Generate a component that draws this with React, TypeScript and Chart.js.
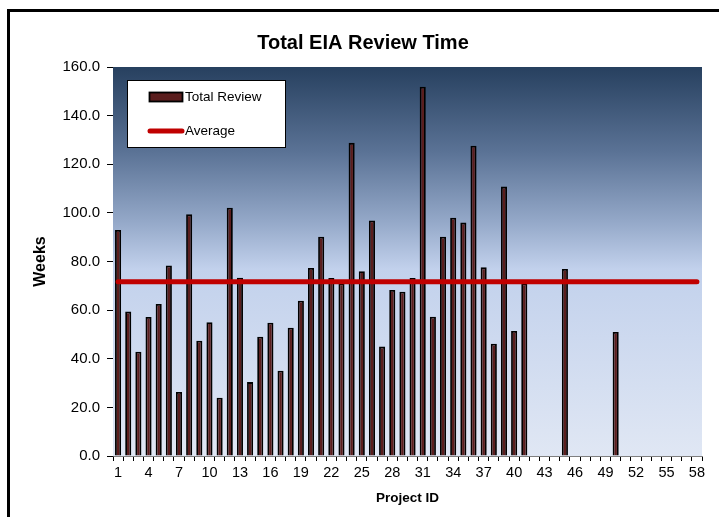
import React, { useEffect, useRef } from "react";
import { Chart, registerables } from "chart.js";

Chart.register(...registerables);

const chartTitle = "Total EIA Review Time";
const yAxisTitle = "Weeks";
const xAxisTitle = "Project ID";

const projectIds = [
  "1", "2", "3", "4", "5", "6", "7", "8", "9", "10",
  "11", "12", "13", "14", "15", "16", "17", "18", "19", "20",
  "21", "22", "23", "24", "25", "26", "27", "28", "29", "30",
  "31", "32", "33", "34", "35", "36", "37", "38", "39", "40",
  "41", "42", "43", "44", "45", "46", "47", "48", "49", "50",
  "51", "52", "53", "54", "55", "56", "57", "58",
];

const totalReview = [
  93.0, 59.4, 42.9, 57.2, 62.5, 78.4, 26.3, 99.4, 47.4, 55.0,
  24.0, 102.1, 73.3, 30.4, 49.1, 54.8, 35.1, 52.8, 63.9, 77.3,
  90.2, 73.2, 71.0, 128.8, 76.0, 96.9, 45.0, 68.3, 67.6, 73.2,
  151.9, 57.3, 90.2, 98.0, 96.0, 127.6, 77.6, 46.2, 110.8, 51.4,
  71.0, null, null, null, 76.9, null, null, null, null, 51.0,
  null, null, null, null, null, null, null, null,
];

const averageValue = 71.7;

const xTickLabels = [
  "1", "4", "7", "10", "13", "16", "19", "22", "25", "28",
  "31", "34", "37", "40", "43", "46", "49", "52", "55", "58",
];

const yTickValues = [0, 20, 40, 60, 80, 100, 120, 140, 160];

const FONT = "'Liberation Sans', Arial, sans-serif";
const BAR_FILL = "#5b1e1e";
const AVG_COLOR = "#c00000";

const backgroundPlugin = {
  id: "plotGradient",
  beforeDatasetsDraw(chart: any) {
    const { ctx, chartArea } = chart;
    const { left, top, right, bottom } = chartArea;
    const g = ctx.createLinearGradient(0, top, 0, bottom);
    g.addColorStop(0, "#27405f");
    g.addColorStop(0.22, "#5b7396");
    g.addColorStop(0.4, "#95a9c9");
    g.addColorStop(0.52, "#c2d1ec");
    g.addColorStop(1, "#e0e7f4");
    ctx.save();
    ctx.fillStyle = g;
    ctx.fillRect(left, top, right - left, bottom - top);
    ctx.restore();
  },
};

const titlePlugin = {
  id: "customTitle",
  afterDraw(chart: any) {
    const { ctx } = chart;
    ctx.save();
    ctx.font = `bold 20px ${FONT}`;
    ctx.fillStyle = "#000";
    ctx.textAlign = "center";
    ctx.textBaseline = "middle";
    ctx.fillText(chartTitle, 363, 43);
    ctx.restore();
  },
};

const legendPlugin = {
  id: "boxLegend",
  afterDraw(chart: any) {
    const { ctx } = chart;
    const ds = chart.data.datasets;
    const barDs = ds.find((d: any) => d.type === "bar");
    const lineDs = ds.find((d: any) => d.type === "line");
    ctx.save();
    ctx.fillStyle = "#fff";
    ctx.fillRect(127.5, 80.5, 158, 67);
    ctx.strokeStyle = "#000";
    ctx.lineWidth = 1;
    ctx.strokeRect(127.5, 80.5, 158, 67);

    ctx.fillStyle = BAR_FILL;
    ctx.fillRect(149.5, 92.5, 33, 9);
    ctx.lineWidth = 1.8;
    ctx.strokeStyle = "#000";
    ctx.strokeRect(149.5, 92.5, 33, 9);

    ctx.strokeStyle = AVG_COLOR;
    ctx.lineWidth = 5;
    ctx.lineCap = "round";
    ctx.beginPath();
    ctx.moveTo(150, 131);
    ctx.lineTo(182, 131);
    ctx.stroke();

    ctx.fillStyle = "#000";
    ctx.font = `13.5px ${FONT}`;
    ctx.textAlign = "left";
    ctx.textBaseline = "middle";
    ctx.fillText(barDs.label, 185, 97);
    ctx.fillText(lineDs.label, 185, 131);
    ctx.restore();
  },
};

export default function App() {
  const canvasRef = useRef<HTMLCanvasElement | null>(null);

  useEffect(() => {
    const canvas = canvasRef.current;
    if (!canvas) return;
    const chart = new Chart(canvas, {
      type: "bar",
      data: {
        labels: projectIds,
        datasets: [
          {
            type: "line",
            label: "Average",
            data: projectIds.map(() => averageValue),
            borderColor: AVG_COLOR,
            borderWidth: 5,
            borderCapStyle: "round",
            pointRadius: 0,
            fill: false,
            order: 0,
          } as any,
          {
            type: "bar",
            label: "Total Review",
            data: totalReview,
            backgroundColor: BAR_FILL,
            borderColor: "#000",
            borderWidth: 1.8,
            barPercentage: 0.6,
            categoryPercentage: 1,
            order: 1,
          } as any,
        ],
      },
      options: {
        animation: false,
        responsive: false,
        maintainAspectRatio: false,
        layout: { padding: { top: 67, left: 7, right: 17, bottom: 0 } },
        font: { family: FONT },
        plugins: {
          legend: { display: false },
          title: { display: false },
          tooltip: { enabled: false },
        },
        scales: {
          x: {
            type: "category",
            offset: true,
            grid: {
              offset: true,
              drawOnChartArea: false,
              color: "#000",
              tickLength: 5,
            },
            border: { display: true, color: "#7f7f7f", width: 1 },
            ticks: {
              autoSkip: false,
              maxRotation: 0,
              minRotation: 0,
              padding: 3,
              color: "#000",
              font: { family: FONT, size: 14.5 },
              callback: function (this: any, value: any) {
                const lbl = this.getLabelForValue(value);
                return xTickLabels.includes(lbl) ? lbl : "";
              },
            },
            title: {
              display: true,
              text: xAxisTitle,
              color: "#000",
              font: { family: FONT, size: 13.5, weight: "bold" },
              padding: { top: 0, bottom: 11 },
            },
            afterFit: (scale: any) => {
              scale.height = 61;
            },
          },
          y: {
            min: 0,
            max: 160,
            grid: {
              drawOnChartArea: false,
              color: "#000",
              tickLength: 6,
            },
            border: { display: true, color: "#555", width: 1 },
            afterBuildTicks: (scale: any) => {
              scale.ticks = yTickValues.map((v) => ({ value: v }));
            },
            ticks: {
              padding: 7,
              color: "#000",
              font: { family: FONT, size: 15 },
              callback: (value: any) => Number(value).toFixed(1),
            },
            title: {
              display: true,
              text: yAxisTitle,
              color: "#000",
              font: { family: FONT, size: 16, weight: "bold" },
              padding: { top: 24.4, bottom: 0 },
            },
            afterFit: (scale: any) => {
              scale.width = 106;
            },
          },
        },
      } as any,
      plugins: [backgroundPlugin, titlePlugin, legendPlugin],
    });
    return () => chart.destroy();
  }, []);

  return (
    <div
      style={{
        position: "absolute",
        left: 0,
        top: 0,
        width: 719,
        height: 517,
        background: "#fff",
        overflow: "hidden",
      }}
    >
      <div
        style={{
          position: "absolute",
          left: 7,
          top: 9,
          width: 730,
          height: 530,
          borderLeft: "3px solid #000",
          borderTop: "3px solid #000",
          boxSizing: "border-box",
        }}
      />
      <canvas
        ref={canvasRef}
        width={719}
        height={517}
        style={{ position: "absolute", left: 0, top: 0, width: 719, height: 517 }}
      />
    </div>
  );
}
